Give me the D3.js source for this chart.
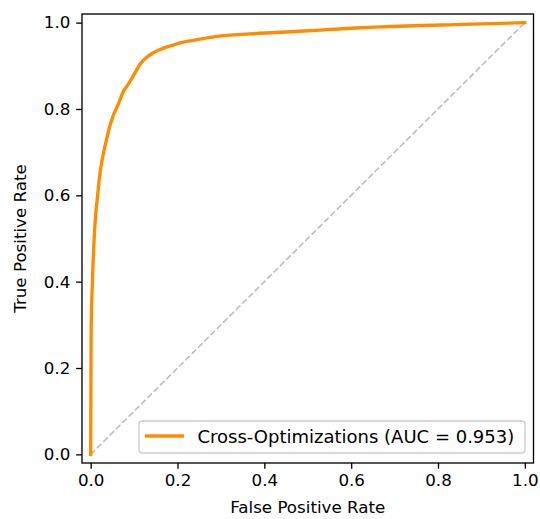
<!DOCTYPE html>
<html>
<head>
<meta charset="utf-8">
<script src="https://cdn.jsdelivr.net/npm/d3@7"></script>
<style>
  html, body { margin: 0; padding: 0; background: #fff; }
  svg { display: block; }
  text { font-family: "DejaVu Sans", sans-serif; }
</style>
</head>
<body>
<script>
// ROC curve points
const fpr = [0, 0.0003, 0.0006, 0.001, 0.004, 0.008, 0.012, 0.016, 0.020, 0.025, 0.030, 0.036, 0.044, 0.052, 0.064, 0.075, 0.087, 0.100, 0.114, 0.133, 0.160, 0.190, 0.213, 0.237, 0.290, 0.367, 0.480, 0.600, 0.667, 0.858, 1.0];
const tpr = [0, 0.08, 0.17, 0.28, 0.40, 0.50, 0.56, 0.60, 0.64, 0.675, 0.70, 0.727, 0.76, 0.785, 0.812, 0.840, 0.858, 0.880, 0.904, 0.923, 0.938, 0.948, 0.955, 0.959, 0.968, 0.974, 0.980, 0.987, 0.990, 0.996, 1.0];
const chanceX = [0, 1];
const chanceY = [0, 1];
const xTicks = [0, 0.2, 0.4, 0.6, 0.8, 1.0];
const yTicks = [0, 0.2, 0.4, 0.6, 0.8, 1.0];
const legendLabel = "Cross-Optimizations (AUC = 0.953)";
const xLabel = "False Positive Rate";
const yLabel = "True Positive Rate";

const W = 540, H = 519;
const L = 82, R = 533.5, T = 14, B = 463;
const FS = 16.7;
const LFS = 18;

const svg = d3.select("body").append("svg").attr("width", W).attr("height", H);

const x = d3.scaleLinear().domain([-0.02, 1.02]).range([L, R]);
const y = d3.scaleLinear().domain([-0.02, 1.02]).range([B, T]);

// chance diagonal
svg.append("path")
  .datum(chanceX.map((d, i) => [d, chanceY[i]]))
  .attr("d", d3.line().x(d => x(d[0])).y(d => y(d[1])))
  .attr("fill", "none")
  .attr("stroke", "#bfbfbf")
  .attr("stroke-width", 1.67)
  .attr("stroke-dasharray", "6.2,2.7");

// ROC curve
svg.append("path")
  .datum(fpr.map((d, i) => [d, tpr[i]]))
  .attr("d", d3.line().curve(d3.curveMonotoneX).x(d => x(d[0])).y(d => y(d[1])))
  .attr("fill", "none")
  .attr("stroke", "#ff8c00")
  .attr("stroke-width", 3.33)
  .attr("stroke-linejoin", "round")
  .attr("stroke-linecap", "square");

// frame
svg.append("rect")
  .attr("x", L).attr("y", T).attr("width", R - L).attr("height", B - T)
  .attr("fill", "none").attr("stroke", "#000").attr("stroke-width", 1.33);

// axes
const fmt = d3.format(".1f");
const xAxis = svg.append("g").attr("transform", `translate(0,${B})`)
  .call(d3.axisBottom(x).tickValues(xTicks).tickFormat(fmt).tickSize(5.8).tickPadding(5.8));
const yAxis = svg.append("g").attr("transform", `translate(${L},0)`)
  .call(d3.axisLeft(y).tickValues(yTicks).tickFormat(fmt).tickSize(5.8).tickPadding(5.8));
[xAxis, yAxis].forEach(g => {
  g.select(".domain").remove();
  g.selectAll(".tick line").attr("stroke", "#000").attr("stroke-width", 1.33);
  g.selectAll(".tick text").attr("fill", "#000").style("font-size", FS + "px")
    .style("font-family", "DejaVu Sans, sans-serif");
});

// axis labels
svg.append("text")
  .attr("x", (L + R) / 2).attr("y", 513)
  .attr("text-anchor", "middle").style("font-size", FS + "px").attr("fill", "#000")
  .text(xLabel);
svg.append("text")
  .attr("transform", `translate(26,${(T + B) / 2}) rotate(-90)`)
  .attr("text-anchor", "middle").style("font-size", FS + "px").attr("fill", "#000")
  .text(yLabel);

// legend
const lg = svg.append("g");
lg.append("rect")
  .attr("x", 139).attr("y", 421).attr("width", 386).attr("height", 32)
  .attr("rx", 3.3).attr("ry", 3.3)
  .attr("fill", "#fff").attr("fill-opacity", 0.8)
  .attr("stroke", "#cccccc").attr("stroke-width", 1.33);
lg.append("line")
  .attr("x1", 145).attr("x2", 184).attr("y1", 436).attr("y2", 436)
  .attr("stroke", "#ff8c00").attr("stroke-width", 3.33);
lg.append("text")
  .attr("x", 197.5).attr("y", 443)
  .style("font-size", LFS + "px").attr("fill", "#000")
  .text(legendLabel);
</script>
</body>
</html>
